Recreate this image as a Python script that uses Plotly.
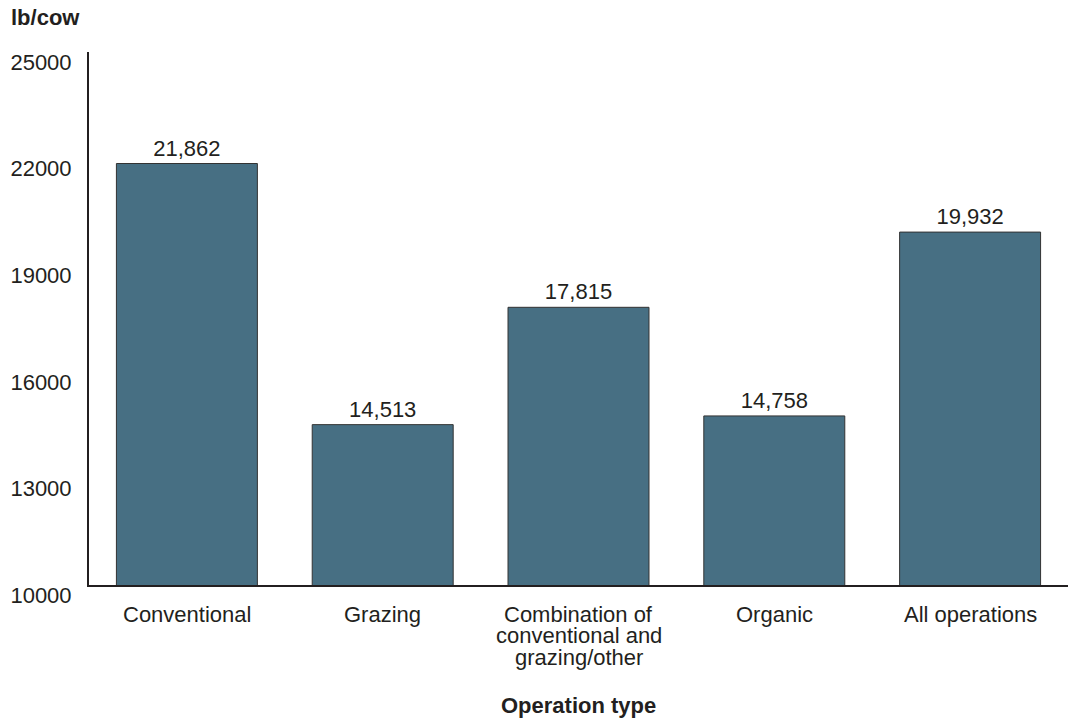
import plotly.graph_objects as go

categories = ["Conventional", "Grazing", "Combination of<br>conventional and<br>grazing/other", "Organic", "All operations"]
values = [21862, 14513, 17815, 14758, 19932]
tick_vals = [10000, 13000, 16000, 19000, 22000, 25000]
tick_text = ["10000", "13000", "16000", "19000", "22000", "25000"]

FONT = "Liberation Sans, Arial, sans-serif"
INK = "#231f20"
fig = go.Figure(go.Bar(
    x=categories, y=values,
    marker=dict(color="#476f83", line=dict(color="#333333", width=1)),
    texttemplate="%{y:,}", textposition="outside",
    textfont=dict(family=FONT, size=22, color=INK),
    cliponaxis=False,
))
fig.update_layout(
    width=1070, height=723,
    margin=dict(l=89, r=2, t=52, b=138),
    plot_bgcolor="white", paper_bgcolor="white",
    bargap=0.28, showlegend=False,
    font=dict(family=FONT, size=22, color=INK),
)
fig.update_yaxes(
    range=[10000, 25000], tickvals=tick_vals, ticktext=tick_text,
    showgrid=False, zeroline=False, automargin=False,
    showline=True, linecolor=INK, linewidth=2,
    ticks="", ticklabelshift=10, ticklabelstandoff=11,
    tickfont=dict(family=FONT, size=22, color=INK),
)
fig.update_xaxes(
    showgrid=False, showline=True, linecolor=INK, linewidth=2,
    ticks="", showticklabels=False, automargin=False,
)
# category labels, one annotation per line for tight line spacing
for cat in categories:
    for i, line in enumerate(cat.split("<br>")):
        fig.add_annotation(text=line, x=cat, xref="x", yref="paper", y=0,
                           xanchor="center", yanchor="middle", yshift=-29 - 21.5 * i,
                           showarrow=False, font=dict(family=FONT, size=22, color=INK))
fig.add_annotation(text="<b>lb/cow</b>", xref="paper", yref="paper", x=0, y=1,
                   xanchor="left", yanchor="middle", xshift=-80, yshift=35,
                   showarrow=False, font=dict(family=FONT, size=22, color=INK))
fig.add_annotation(text="<b>Operation type</b>", xref="paper", yref="paper", x=0.5, y=0,
                   xanchor="center", yanchor="middle", yshift=-120,
                   showarrow=False, font=dict(family=FONT, size=22, color=INK))
fig.write_html("out.html", config={"displayModeBar": False},
               post_script="document.body.style.margin='0';document.body.style.overflow='hidden';")
